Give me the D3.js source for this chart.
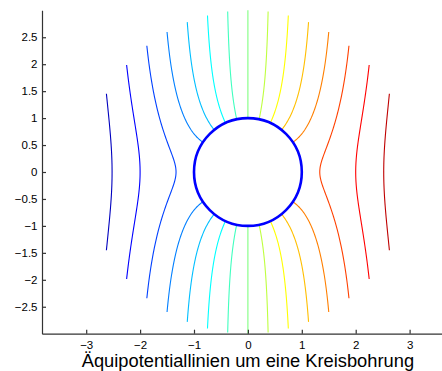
<!DOCTYPE html>
<html>
<head>
<meta charset="utf-8">
<script src="https://cdn.jsdelivr.net/npm/d3@7"></script>
<style>
  body { margin: 0; background: #fff; }
  svg { display: block; font-family: "Liberation Sans", Arial, Helvetica, sans-serif; }
  .axis path, .axis line { stroke: #333; stroke-width: 1.2; }
  .axis text { fill: #000; font-size: 11.5px; }
</style>
</head>
<body>
<script>
// contour levels of the potential
var levels = [-2.9167, -2.5, -2.0833, -1.6667, -1.25, -0.8333, -0.4167, 0,
              0.4167, 0.8333, 1.25, 1.6667, 2.0833, 2.5, 2.9167];
var colorRange = [-3.3333, 3.3333];   // caxis of the colour map
var bore = 1;        // radius of the hole
var outer = 3;       // outer radius of the grid
var xTicks = [-3, -2, -1, 0, 1, 2, 3];
var yTicks = [-2.5, -2, -1.5, -1, -0.5, 0, 0.5, 1, 1.5, 2, 2.5];
var title = "Äquipotentiallinien um eine Kreisbohrung";

var width = 442, height = 371;

var x = d3.scaleLinear().domain([-3.82, 3.82]).range([42, 453.8]);
var y = d3.scaleLinear().domain([-3, 3]).range([333.7, 10.3]);

// jet colormap
var jetStops = [0, 0.125, 0.375, 0.625, 0.875, 1];
var jetColors = ["#000080", "#0000ff", "#00ffff", "#ffff00", "#ff0000", "#800000"];
var jet = d3.scaleLinear().domain(jetStops).range(jetColors).interpolate(d3.interpolateRgb);
var color = (c) => jet((c - colorRange[0]) / (colorRange[1] - colorRange[0]));

var svg = d3.select("body").append("svg")
    .attr("width", width)
    .attr("height", height);

// potential (r + 1/r) cos(theta) = c  ->  points along r
function branches(c) {
    var rmin = bore;
    var a = Math.abs(c);
    if (a > 2 * bore) rmin = (a + Math.sqrt(a * a - 4)) / 2;
    var n = 80, up = [];
    for (var i = 0; i <= n; i++) {
        var s = i / n;
        var r = a > 2 ? rmin + (outer - rmin) * s * s : rmin + (outer - rmin) * s;
        var cs = Math.max(-1, Math.min(1, c * r / (r * r + 1)));
        var th = Math.acos(cs);
        up.push([r * Math.cos(th), r * Math.sin(th)]);
    }
    var down = up.map(p => [p[0], -p[1]]);
    if (a > 2) {
        return [down.slice().reverse().concat(up.slice(1))];
    }
    return [up, down];
}

var line = d3.line()
    .x(d => x(d[0]))
    .y(d => y(d[1]));

var g = svg.append("g");
levels.forEach(function(c) {
    g.selectAll(null)
        .data(branches(c))
        .enter().append("path")
        .attr("d", line)
        .attr("fill", "none")
        .attr("stroke", color(c))
        .attr("stroke-width", 1.1);
});

// the bore
svg.append("ellipse")
    .attr("cx", x(0))
    .attr("cy", y(0))
    .attr("rx", x(bore) - x(0))
    .attr("ry", y(0) - y(bore))
    .attr("fill", "none")
    .attr("stroke", "#0000ff")
    .attr("stroke-width", 2.6);

var fmt = d3.format("~g");

svg.append("g")
    .attr("class", "axis")
    .attr("transform", "translate(0," + y(-3) + ")")
    .call(d3.axisBottom(x).tickValues(xTicks).tickFormat(fmt).tickSizeInner(-4).tickSizeOuter(0).tickPadding(7));

svg.append("g")
    .attr("class", "axis")
    .attr("transform", "translate(" + x(-3.82) + ",0)")
    .call(d3.axisLeft(y).tickValues(yTicks).tickFormat(fmt).tickSizeInner(-4).tickSizeOuter(0).tickPadding(4.5));

svg.selectAll(".axis").attr("font-family", null).attr("font-size", null);

svg.append("text")
    .attr("x", x(0))
    .attr("y", 366.5)
    .attr("text-anchor", "middle")
    .attr("font-size", "18.3px")
    .attr("fill", "#000")
    .text(title);
</script>
</body>
</html>
